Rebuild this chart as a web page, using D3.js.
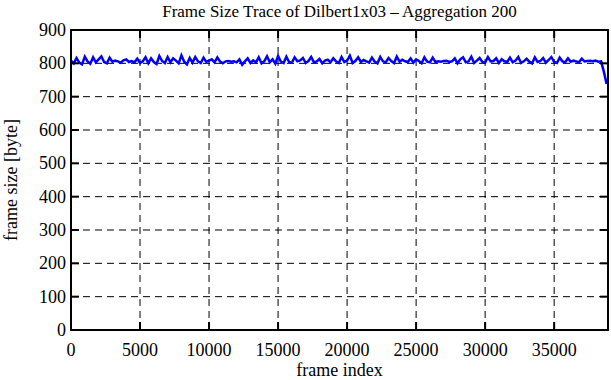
<!DOCTYPE html>
<html>
<head>
<meta charset="utf-8">
<script src="https://cdn.jsdelivr.net/npm/d3@7"></script>
<style>
  body { margin: 0; background: #fff; }
  text { font-family: "Liberation Serif", "DejaVu Serif", serif; fill: #000; }
</style>
</head>
<body>
<svg id="chart" width="611" height="380"></svg>
<script>
const TITLE = 'Frame Size Trace of Dilbert1x03 \u2013 Aggregation 200';
const X_LABEL = 'frame index';
const Y_LABEL = 'frame size [byte]';
const AGGREGATION = 200;
const X_TICKS = [0, 5000, 10000, 15000, 20000, 25000, 30000, 35000];
const Y_TICKS = [0, 100, 200, 300, 400, 500, 600, 700, 800, 900];
const X_MAX = 38900;
const Y_MAX = 900;

// average frame size per block of 200 frames
const frameSizes = [
    808, 800, 816, 802, 797, 820, 806, 799, 818, 803, 812, 821, 804, 800, 817,
    805, 808, 806, 802, 809, 812, 804, 807, 803, 814, 801, 806, 818, 800, 815,
    804, 798, 822, 807, 801, 819, 803, 815, 808, 800, 824, 805, 797, 816, 802,
    819, 806, 801, 817, 804, 808, 812, 803, 818, 805, 800, 806, 807, 805, 806,
    803, 812, 796, 806, 815, 801, 809, 803, 818, 800, 806, 821, 803, 812, 799,
    822, 805, 801, 820, 804, 802, 818, 806, 809, 816, 801, 807, 819, 803, 806,
    813, 800, 808, 811, 803, 815, 806, 801, 819, 804, 808, 823, 801, 807, 818,
    804, 810, 806, 802, 817, 805, 800, 819, 806, 803, 816, 807, 801, 820, 805,
    811, 806, 804, 815, 802, 812, 807, 800, 818, 805, 803, 817, 804, 806, 805,
    807, 808, 804, 806, 815, 800, 812, 818, 803, 806, 820, 801, 808, 816, 804,
    802, 819, 806, 807, 815, 801, 812, 806, 804, 817, 803, 808, 819, 801, 806,
    814, 805, 800, 818, 804, 807, 816, 802, 810, 819, 804, 801, 817, 806, 803,
    815, 805, 808, 806, 803, 814, 806, 807, 808, 806, 808, 805, 806, 775, 738
];

const LEFT = 71, RIGHT = 608, TOP = 30, BOTTOM = 330;
const TICK_LEN = 8;

const svg = d3.select('#chart');

const x = d3.scaleLinear().domain([0, X_MAX]).range([LEFT, RIGHT]);
const y = d3.scaleLinear().domain([0, Y_MAX]).range([BOTTOM, TOP]);

// grid
const grid = svg.append('g');
Y_TICKS.filter(v => v > 0 && v < Y_MAX).forEach(v => {
    grid.append('line')
        .attr('x1', LEFT).attr('x2', RIGHT)
        .attr('y1', y(v)).attr('y2', y(v))
        .attr('stroke', '#000').attr('stroke-width', 1)
        .attr('stroke-dasharray', '7,5');
});
X_TICKS.filter(v => v > 0).forEach(v => {
    grid.append('line')
        .attr('x1', x(v)).attr('x2', x(v))
        .attr('y1', BOTTOM).attr('y2', TOP)
        .attr('stroke', '#000').attr('stroke-width', 1)
        .attr('stroke-dasharray', '7,5');
});

// the trace
const line = d3.line()
    .x((d, i) => x(i * AGGREGATION))
    .y(d => y(d));

svg.append('path')
    .datum(frameSizes)
    .attr('d', line)
    .attr('fill', 'none')
    .attr('stroke', '#0000ff')
    .attr('stroke-width', 2.5)
    .attr('stroke-linejoin', 'miter');

// ticks (mirrored, pointing inward)
const ticks = svg.append('g').attr('stroke', '#000').attr('stroke-width', 2);
Y_TICKS.forEach(v => {
    ticks.append('line').attr('x1', LEFT).attr('x2', LEFT + TICK_LEN).attr('y1', y(v)).attr('y2', y(v));
    ticks.append('line').attr('x1', RIGHT).attr('x2', RIGHT - TICK_LEN).attr('y1', y(v)).attr('y2', y(v));
});
X_TICKS.forEach(v => {
    ticks.append('line').attr('x1', x(v)).attr('x2', x(v)).attr('y1', BOTTOM).attr('y2', BOTTOM - TICK_LEN);
    ticks.append('line').attr('x1', x(v)).attr('x2', x(v)).attr('y1', TOP).attr('y2', TOP + TICK_LEN);
});

// border
svg.append('rect')
    .attr('x', LEFT).attr('y', TOP)
    .attr('width', RIGHT - LEFT).attr('height', BOTTOM - TOP)
    .attr('fill', 'none').attr('stroke', '#000').attr('stroke-width', 2);

// tick labels
Y_TICKS.forEach(v => {
    svg.append('text')
        .text(v)
        .attr('x', LEFT - 5)
        .attr('y', y(v) + 6)
        .attr('text-anchor', 'end')
        .attr('font-size', 18);
});
X_TICKS.forEach(v => {
    svg.append('text')
        .text(v)
        .attr('x', x(v))
        .attr('y', 356)
        .attr('text-anchor', 'middle')
        .attr('font-size', 18);
});

// titles
svg.append('text')
    .text(TITLE)
    .attr('x', (LEFT + RIGHT) / 2)
    .attr('y', 17)
    .attr('text-anchor', 'middle')
    .attr('font-size', 17);

svg.append('text')
    .text(X_LABEL)
    .attr('x', (LEFT + RIGHT) / 2)
    .attr('y', 376)
    .attr('text-anchor', 'middle')
    .attr('font-size', 18);

svg.append('text')
    .text(Y_LABEL)
    .attr('transform', 'translate(17,' + ((TOP + BOTTOM) / 2) + ') rotate(-90)')
    .attr('text-anchor', 'middle')
    .attr('font-size', 18);
</script>
</body>
</html>
